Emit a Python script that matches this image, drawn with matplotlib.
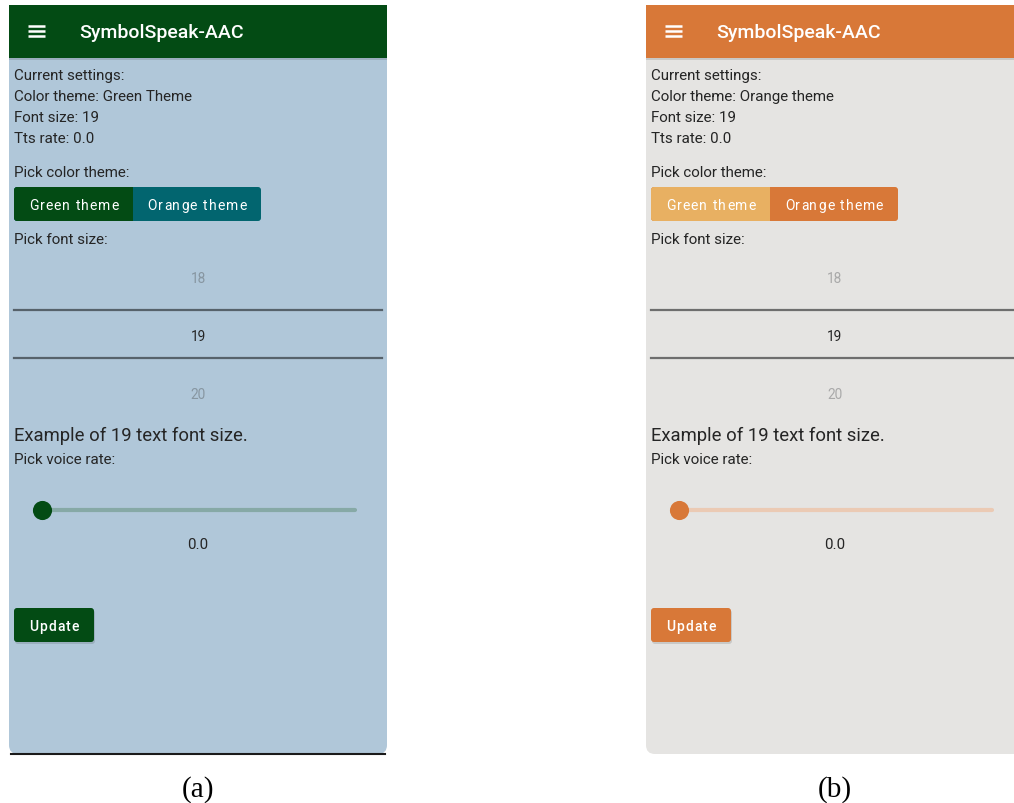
import matplotlib.pyplot as plt
from matplotlib.patches import Rectangle, FancyBboxPatch

plt.rcParams['font.family'] = ['Roboto', 'DejaVu Sans']

# content of the two screens
app_title = "SymbolSpeak-AAC"
current_theme = ["Green Theme", "Orange theme"]
font_size = 19
tts_rate = 0.0
rate_range = (0.0, 2.0)
picker_values = [18, 19, 20]
theme_buttons = ["Green theme", "Orange theme"]
captions = ["(a)", "(b)"]
offsets = [0, 637]

themes = [
    dict(bar='#034b14', body='#b0c7d9', btn_left='#034b14', btn_right='#02656f',
         track='#86a9a6', thumb='#034b14', rule='#56626b', faint='#8796a1',
         update='#034b14', edge='#1a1a1a'),
    dict(bar='#d87838', body='#e5e4e2', btn_left='#e8b062', btn_right='#d87838',
         track='#ebcab4', thumb='#d87838', rule='#6e6e6e', faint='#a9a9a9',
         update='#d87838', edge=None),
]

TXT = '#252525'


def spaced_text(ax, xc, y, s, spacing, **kw):
    # button labels have letter spacing, so lay them out char by char
    fig = ax.figure
    r = fig.canvas.get_renderer()
    widths = []
    for ch in s:
        t = ax.text(0, 0, ch if ch != ' ' else 'n', **kw)
        bb = t.get_window_extent(renderer=r)
        w = bb.width if ch != ' ' else bb.width * 0.5
        widths.append(w)
        t.remove()
    total = sum(widths) + spacing * (len(s) - 1)
    x = xc - total / 2
    for ch, w in zip(s, widths):
        ax.text(x, y, ch, ha='left', va='center', **kw)
        x += w + spacing


def draw_phone(ax, dx, th, theme_name):
    # body with rounded bottom corners, header on top
    ax.add_patch(FancyBboxPatch((9 + dx, 20), 378, 735,
                                boxstyle="round,pad=0,rounding_size=9",
                                fc=th['body'], ec='none'))
    ax.add_patch(Rectangle((9 + dx, 6), 378, 53, fc=th['bar'], ec='none'))
    ax.add_patch(Rectangle((9 + dx, 59), 378, 1.5, fc='black', alpha=0.12, ec='none'))
    if th['edge']:
        ax.plot([11 + dx, 385 + dx], [755, 755], color=th['edge'], lw=1.5)

    for yy in (27, 32, 37):
        ax.plot([28 + dx, 45 + dx], [yy, yy], color='white', lw=1.8, solid_capstyle='butt')
    ax.text(79 + dx, 33, app_title, color='white', fontsize=14,
            fontweight='medium', va='center', ha='left')

    lines = ["Current settings:",
             f"Color theme: {theme_name}",
             f"Font size: {font_size}",
             f"Tts rate: {tts_rate:.1f}"]
    for i, s in enumerate(lines):
        ax.text(14 + dx, 76 + 21 * i, s, color=TXT, fontsize=10.9, va='center')

    ax.text(14 + dx, 173, "Pick color theme:", color=TXT, fontsize=10.9, va='center')
    ax.add_patch(FancyBboxPatch((14 + dx, 188), 247, 34,
                                boxstyle="round,pad=0,rounding_size=3",
                                fc=th['btn_right'], ec='none'))
    ax.add_patch(FancyBboxPatch((14 + dx, 188), 119, 34,
                                boxstyle="round,pad=0,rounding_size=3",
                                fc=th['btn_left'], ec='none'))
    ax.add_patch(Rectangle((125 + dx, 188), 8, 34, fc=th['btn_left'], ec='none'))
    spaced_text(ax, 74 + dx, 206, theme_buttons[0], 1.0, color='white', fontsize=10)
    spaced_text(ax, 197 + dx, 206, theme_buttons[1], 1.0, color='white', fontsize=10)

    ax.text(14 + dx, 240, "Pick font size:", color=TXT, fontsize=10.9, va='center')
    for i, v in enumerate(picker_values):
        col = TXT if v == font_size else th['faint']
        ax.text(198 + dx, 279 + 58 * i, str(v), color=col, fontsize=9.8,
                ha='center', va='center')
    for yy in (311, 359):
        ax.plot([14 + dx, 382 + dx], [yy, yy], color=th['rule'], lw=1.6)

    ax.text(14 + dx, 436, f"Example of {font_size} text font size.", color=TXT,
            fontsize=13.3, va='center')
    ax.text(14 + dx, 460, "Pick voice rate:", color=TXT, fontsize=10.9, va='center')

    # slider
    x_lo, x_hi = 42 + dx, 355 + dx
    frac = (tts_rate - rate_range[0]) / (rate_range[1] - rate_range[0])
    ax.plot([x_lo, x_hi], [511, 511], color=th['track'], lw=3, solid_capstyle='round')
    ax.scatter([x_lo + frac * (x_hi - x_lo)], [511], s=190, color=th['thumb'], zorder=3,
               linewidths=0)
    ax.text(198 + dx, 545, f"{tts_rate:.1f}", color=TXT, fontsize=10.9,
            ha='center', va='center')

    # update button
    ax.add_patch(FancyBboxPatch((15 + dx, 611), 80, 34,
                                boxstyle="round,pad=0,rounding_size=3",
                                fc='black', alpha=0.12, ec='none'))
    ax.add_patch(FancyBboxPatch((14 + dx, 609), 80, 34,
                                boxstyle="round,pad=0,rounding_size=3",
                                fc=th['update'], ec='none'))
    spaced_text(ax, 54 + dx, 627, "Update", 1.0, color='white', fontsize=10,
                fontweight='medium')


fig = plt.figure(figsize=(10.14, 8.04), dpi=100)
ax = fig.add_axes([0, 0, 1, 1])
ax.set_xlim(0, 1014)
ax.set_ylim(804, 0)
ax.axis('off')

for dx, th, name, cap in zip(offsets, themes, current_theme, captions):
    draw_phone(ax, dx, th, name)
    ax.text(198 + dx, 790, cap, fontsize=21, family='Liberation Serif',
            ha='center', va='center', color='black')

fig.savefig('out.png', dpi=100, facecolor='white')
